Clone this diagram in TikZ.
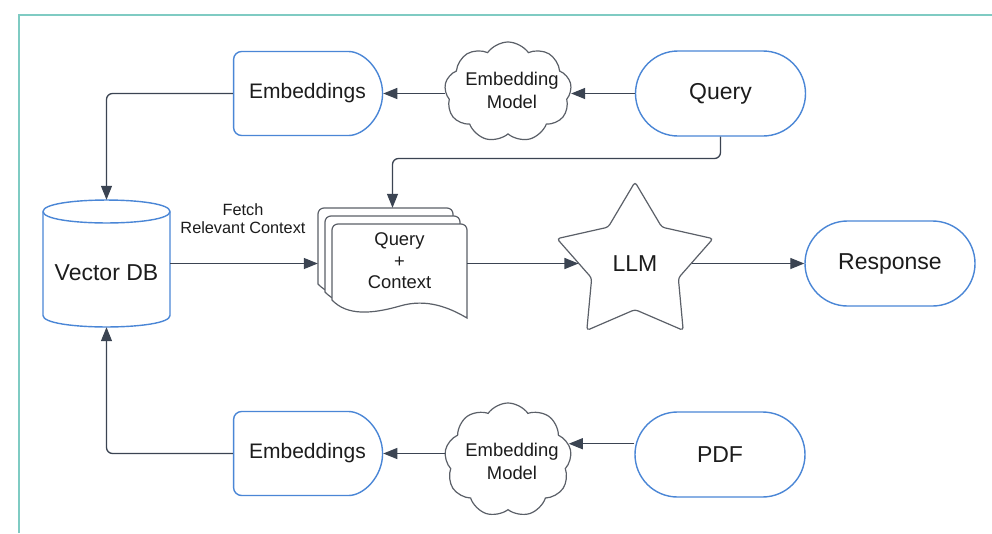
\documentclass[tikz,border=0pt]{standalone}
\usepackage{fontspec}
\setmainfont{Liberation Sans}
\usetikzlibrary{shapes.geometric,shapes.misc,shapes.symbols,arrows.meta,calc}
\definecolor{bluebd}{HTML}{4A86D6}
\definecolor{graybd}{HTML}{5B6068}
\definecolor{arrowc}{HTML}{3B4452}
\definecolor{frameC}{HTML}{7FCBC3}
\definecolor{txt}{HTML}{1C1C1C}
\newcommand\docsheet[2]{%
  \draw[graybd, line width=1.2pt, fill=white]
    (#1,#2+76) [rounded corners=6pt] -- (#1,#2) -- (#1+135,#2) [sharp corners] -- (#1+135,#2+94)
    .. controls (#1+118,#2+84) and (#1+95,#2+74) .. (#1+68,#2+82)
    .. controls (#1+40,#2+90) and (#1+15,#2+92) .. (#1,#2+76) -- cycle;}
\begin{document}
\begin{tikzpicture}[x=1pt,y=-1pt,
  every node/.style={text=txt, inner sep=0pt},
  stadium/.style={rounded rectangle, draw=bluebd, fill=white, line width=1.4pt,
    minimum width=170pt, minimum height=85pt, font=\fontsize{23}{27}\selectfont},
  delaybox/.style={rounded rectangle, rounded rectangle west arc=none, rounded corners=8pt,
    draw=bluebd, fill=white, line width=1.4pt, minimum width=149pt, minimum height=84pt,
    font=\fontsize{21}{25}\selectfont},
  cloudbox/.style={cloud, cloud puffs=9, cloud puff arc=110, draw=graybd, fill=white,
    line width=1.2pt},
  cloudtext/.style={align=center, font=\fontsize{18.4}{23}\selectfont},
  arr/.style={draw=arrowc, line width=1.3pt, -{Triangle[length=14pt,width=11pt]}, rounded corners=6pt},
]
\useasboundingbox[fill=white] (0,0) rectangle (992,533);
\draw[frameC, line width=1.5pt] (19,533) -- (19,15) -- (992,15);

% nodes
\node[delaybox] (emb1) at (307.5,93.5) {Embeddings};
\node[delaybox] (emb2) at (307.5,453.5) {Embeddings};
\node[cloudbox, minimum width=127pt, minimum height=100pt] (cloud1) at (508,92) {};
\node[cloudtext] (cloud1text) at (512,90) {Embedding\\Model};
\node[cloudbox, minimum width=127pt, minimum height=114pt] (cloud2) at (508,460) {};
\node[cloudtext] (cloud2text) at (512,461) {Embedding\\Model};
\node[stadium] (query) at (720.5,93.5) {Query};
\node[stadium] (pdf) at (720,454.5) {PDF};
\node[stadium] (resp) at (890,263.5) {Response};

% vector DB cylinder
\node[minimum width=127pt, minimum height=127pt] (vdb) at (106.5,263.5) {};
\draw[bluebd, line width=1.4pt, fill=white]
  (43,211.5) -- (43,315.5) .. controls (43,330.8) and (170,330.8) .. (170,315.5) -- (170,211.5)
  .. controls (170,196.2) and (43,196.2) .. (43,211.5) -- cycle;
\draw[bluebd, line width=1.4pt]
  (43,211.5) .. controls (43,226.8) and (170,226.8) .. (170,211.5);
\node[font=\fontsize{23}{27}\selectfont] (vdbtext) at (106.5,273) {Vector DB};

% document stack
\docsheet{318}{208}
\docsheet{325}{216}
\docsheet{332}{224}
\node[minimum width=149pt, minimum height=111pt] (stack) at (392.5,263.5) {};
\node[align=center, font=\fontsize{18.4}{21.5}\selectfont] (qc) at (399.5,261) {Query\\+\\Context};

% star
\node[star, star points=5, star point ratio=1.8, minimum size=164pt, draw=graybd, fill=white,
  line width=1.2pt, rounded corners=3pt, font=\fontsize{23}{27}\selectfont] (llm) at (635,264) {LLM};

% label
\node[align=center, font=\fontsize{16.3}{18}\selectfont] (fetch) at (243,219) {Fetch\\Relevant Context};

% connectors
\draw[arr] (query.west) -- (query.west -| cloud1.east);
\draw[arr] (cloud1.west |- emb1.east) -- (emb1.east);
\draw[arr] (emb1.west) -| (vdb.north);
\coordinate (qbend) at (392.5,158.5);
\draw[arr] (query.south) |- (qbend) -- (stack.north);
\draw[arr] (vdb.east) -- (stack.west |- vdb.east);
\draw[arr] (stack.east) -- (stack.east -| llm.west);
\draw[arr] (llm.east |- resp.west) -- (resp.west);
\draw[arr] (pdf.west |- cloud2.15) -- (cloud2.15);
\draw[arr] (cloud2.west |- emb2.east) -- (emb2.east);
\draw[arr] (emb2.west) -| (vdb.south);
\end{tikzpicture}
\end{document}
